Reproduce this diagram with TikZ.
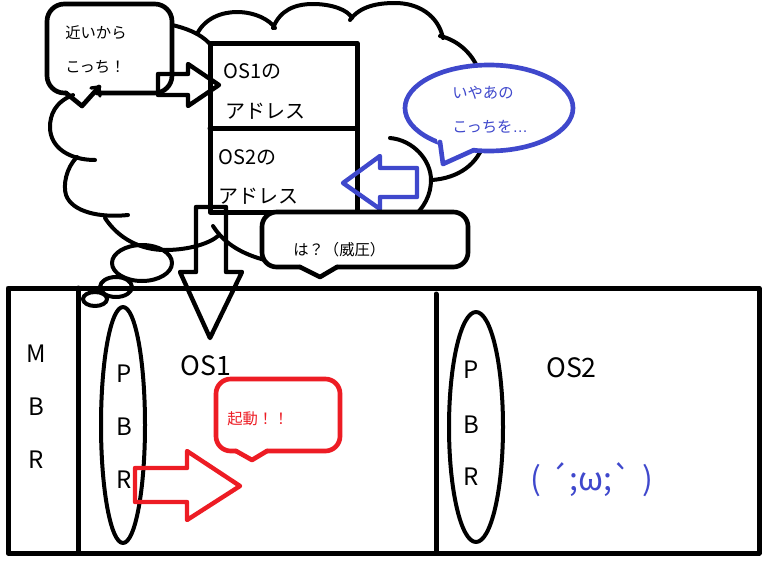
\documentclass[tikz,border=0pt]{standalone}
\usepackage{fontspec}
\setmainfont{Noto Sans CJK JP}
\newfontfamily\latinfont{Liberation Sans}
\newfontfamily\facefont{Noto Sans CJK JP}
\definecolor{pblue}{HTML}{3F48CC}
\definecolor{pred}{HTML}{ED1C24}
\begin{document}
\begin{tikzpicture}[x=0.75pt,y=-0.75pt,line join=round,line cap=round,
  box/.style={line width=3.75pt},
  cl/.style={line width=3pt},
  bub/.style={line width=3.5pt,fill=white},
  arr/.style={line width=3.3pt},
  tx/.style={anchor=base west,inner sep=0pt},
  tc/.style={anchor=base,inner sep=0pt},
  s15/.style={font=\fontsize{11.5pt}{13pt}\selectfont},
  s20/.style={font=\fontsize{15pt}{17pt}\selectfont},
  s24/.style={font=\fontsize{18pt}{20pt}\selectfont},
  s27/.style={font=\fontsize{20pt}{22pt}\selectfont}]
\useasboundingbox (0,0) rectangle (777,575);

% ---- thought cloud ----
\draw[cl] (73,95) .. controls (55,102) and (50,115) .. (50,127) .. controls (50,148) and (70,160) .. (95,160);
\draw[cl] (77,157) .. controls (66,168) and (63,185) .. (66,195) .. controls (72,212) and (100,218) .. (128,215);
\draw[cl] (105,218) .. controls (118,238) and (140,250) .. (165,250) .. controls (190,250) and (210,243) .. (218,236);
\draw[cl] (213,226) .. controls (222,240) and (235,250) .. (255,257) .. controls (270,262) and (282,265) .. (292,264);
\draw[cl] (172,25) .. controls (185,28) and (200,33) .. (210,44);
\draw[cl] (197,34) .. controls (205,18) and (222,12) .. (237,12) .. controls (255,12) and (270,20) .. (275,28);
\draw[cl] (273,28) .. controls (280,10) and (295,4) .. (313,4) .. controls (332,4) and (348,10) .. (352,18);
\draw[cl] (350,20) .. controls (360,6) and (378,3) .. (395,3) .. controls (418,3) and (438,15) .. (443,38);
\draw[cl] (440,36) .. controls (458,40) and (475,55) .. (480,75);
\draw[cl] (390,138) .. controls (413,140) and (431,160) .. (431,180) .. controls (431,195) and (424,208) .. (412,218);
\draw[cl] (485,140) .. controls (478,165) and (458,178) .. (432,180);
% small thought bubbles
\draw[cl] (142,263) ellipse [x radius=30, y radius=18];
\draw[cl] (116,287) ellipse [x radius=16, y radius=10];
\draw[cl] (95,299) ellipse [x radius=12, y radius=7];

% ---- address table ----
\draw[box] (210,43) rectangle (357,212);
\draw[box] (210,128) -- (357,128);
\node[tx,s20] (os1a) at (223,78) {OS1の};
\node[tx,s20] (os1b) at (225,118) {アドレス};
\node[tx,s20] (os2a) at (218,164) {OS2の};
\node[tx,s20] (os2b) at (218,203) {アドレス};

% ---- bubble: 近いから ----
\draw[bub,rounded corners=13pt] (97,93) -- (172,93) -- (172,4) -- (47,4) -- (47,93) -- (66,93);
\draw[bub,fill=none] (66,93) -- (82,106) -- (99,87);
\draw[cl,line width=2.5pt] (91,88) -- (99,87) -- (100,96);
\node[tx,s15] (near1) at (65,38) {近いから};
\node[tx,s15] (near2) at (65,72) {こっち！};

% black arrow to OS1 address
\draw[arr] (158,74) -- (188,74) -- (188,64) -- (219,85) -- (188,106) -- (188,95) -- (158,95) -- cycle;

% ---- blue bubble ----
\filldraw[bub,draw=pblue] (489,108) ellipse [x radius=84, y radius=43];
\fill[white] (437,139) -- (443,164) -- (477,147) -- (457,141) -- cycle;
\draw[bub,draw=pblue,fill=none] (440,142) -- (443,164) -- (474,150);
\node[tx,s15,text=pblue] (iya1) at (452,98) {いやあの};
\node[tx,s15,text=pblue] (iya2) at (452,132) {こっちを{\latinfont …}};

% blue arrow
\draw[arr,pblue] (417,168) -- (380,168) -- (380,156) -- (343,183) -- (380,209) -- (380,197) -- (417,197) -- cycle;

% ---- bubble: は？ ----
\draw[bub,rounded corners=11pt] (337,267) -- (468,267) -- (468,212) -- (262,212) -- (262,267) -- (300,267);
\draw[bub,fill=none] (300,267) -- (320,277) -- (337,267);
\node[tx,s15] (ha) at (293,255) {は？（威圧）};

% ---- disk ----
\draw[box] (8,288) rectangle (759,553);
\draw[box] (78,288) -- (78,553);
\draw[box] (436,294) -- (436,553);
\node[tc,s24] (m) at (36,362) {M};
\node[tc,s24] (b) at (36,415) {B};
\node[tc,s24] (r) at (36,468) {R};

\draw[cl] (123,425) ellipse [x radius=22, y radius=118];
\node[tc,s24] (p1) at (124,382) {P};
\node[tc,s24] (b1) at (124,435) {B};
\node[tc,s24] (r1) at (124,488) {R};
\node[tc,s27] (os1) at (206,375) {OS1};

\draw[cl] (476,427) ellipse [x radius=27, y radius=115];
\node[tc,s24] (p2) at (471,378) {P};
\node[tc,s24] (b2) at (471,433) {B};
\node[tc,s24] (r2) at (471,485) {R};
\node[tx,s27] (os2) at (546,377) {OS2};
\node[tx,text=pblue,font=\facefont\fontsize{24pt}{26pt}\selectfont] (face) at (530,490) {(\hspace{6pt}´\hspace{1pt};ω;`\hspace{8pt})};

% down arrow
\draw[arr] (196,207) -- (226,207) -- (226,272) -- (242,272) -- (210,338) -- (180,272) -- (196,272) -- cycle;

% ---- red bubble and arrow ----
\draw[bub,draw=pred,rounded corners=11pt] (267,451) -- (340,451) -- (340,379) -- (216,379) -- (216,451) -- (236,451);
\draw[bub,draw=pred,fill=none] (236,451) -- (252,460) -- (267,451);
\node[tx,s15,text=pred] (kido) at (227,424) {起動！！};
\draw[arr,pred] (135,468) -- (187,468) -- (187,451) -- (240,486) -- (187,520) -- (187,502) -- (135,502) -- cycle;
\end{tikzpicture}
\end{document}
